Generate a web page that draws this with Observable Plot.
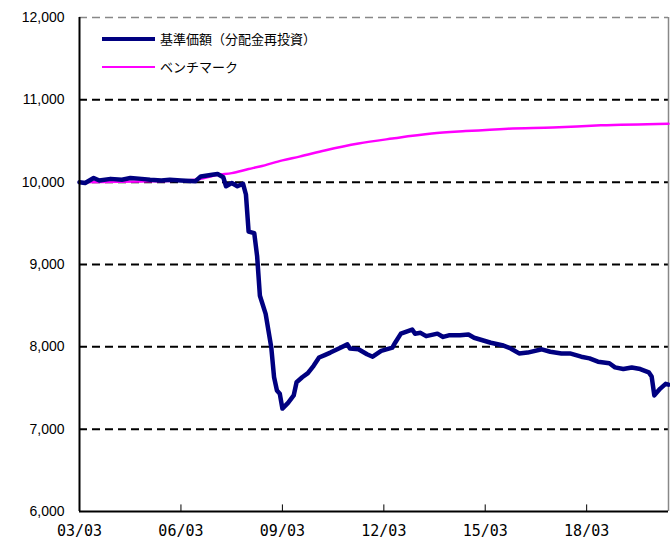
<!DOCTYPE html>
<html><head><meta charset="utf-8">
<script src="https://cdn.jsdelivr.net/npm/d3@7"></script>
<script src="https://cdn.jsdelivr.net/npm/@observablehq/plot@0.6"></script>
<style>
body{margin:0;background:#fff}
#wrap{position:relative;width:670px;height:539px}
.leg{position:absolute;left:102px;display:flex;align-items:center;font:13px "Noto Sans CJK JP",sans-serif;color:#000;white-space:nowrap}
.leg span.sw{display:inline-block;width:53px;margin-right:5px}
</style></head><body><div id="wrap"></div>
<script>
const fundDates=["2003-03","2003-05","2003-08","2003-10","2004-02","2004-06","2004-09","2005-01","2005-04","2005-08","2005-11","2006-03","2006-08","2006-10","2007-02","2007-04","2007-06","2007-07","2007-09","2007-11","2008-01","2008-02","2008-03","2008-05","2008-06","2008-07","2008-09","2008-11","2008-12","2009-01","2009-02","2009-03","2009-05","2009-07","2009-08","2009-10","2009-12","2010-02","2010-04","2010-06","2010-08","2010-11","2011-02","2011-03","2011-06","2011-09","2011-11","2012-02","2012-06","2012-07","2012-09","2013-01","2013-02","2013-04","2013-06","2013-10","2013-12","2014-02","2014-06","2014-09","2014-11","2015-05","2015-09","2015-12","2016-03","2016-06","2016-11","2017-02","2017-06","2017-09","2018-01","2018-04","2018-07","2018-11","2019-01","2019-04","2019-07","2019-10","2020-01","2020-02","2020-03","2020-05","2020-07","2020-08"];
const fundValues=[10000,9990,10050,10020,10040,10030,10050,10040,10030,10020,10030,10020,10010,10070,10090,10100,10060,9950,9990,9950,9980,9850,9400,9380,9100,8620,8400,7990,7630,7470,7430,7250,7320,7410,7570,7630,7680,7770,7870,7900,7930,7980,8030,7980,7970,7910,7880,7950,7990,8050,8160,8210,8160,8170,8130,8160,8120,8140,8140,8150,8110,8050,8020,7980,7920,7930,7970,7940,7920,7920,7880,7860,7820,7800,7750,7730,7750,7730,7690,7640,7410,7490,7550,7540];
const benchDates=["2003-03","2005-03","2006-08","2006-10","2007-04","2007-09","2008-03","2008-07","2009-03","2009-09","2010-06","2011-06","2012-06","2013-08","2014-08","2015-11","2017-03","2018-08","2020-08"];
const benchValues=[10000,10010,10030,10040,10090,10110,10160,10190,10265,10310,10385,10470,10530,10590,10620,10650,10665,10690,10710];
const yTicks=[6000,7000,8000,9000,10000,11000,12000];
const gridValues=[7000,8000,9000,10000,11000];
const xTickDates=["2003-03","2006-03","2009-03","2012-03","2015-03","2018-03"];
const xTickLabels=["03/03","06/03","09/03","12/03","15/03","18/03"];
const xDomain=["2003-03","2020-08"];
const seriesNames=["基準価額（分配金再投資）","ベンチマーク"];

const parse=d3.utcParse("%Y-%m");
const fund=fundDates.map((d,i)=>({date:parse(d),value:fundValues[i]}));
const bench=benchDates.map((d,i)=>({date:parse(d),value:benchValues[i]}));
const xt=xTickDates.map(parse);
const xd=xDomain.map(parse);

const chart=Plot.plot({
  width:670,height:539,
  marginLeft:79,marginRight:2,marginTop:17,marginBottom:28,
  style:{fontFamily:"Arial, 'Liberation Sans', sans-serif",background:"#fff"},
  x:{type:"utc",domain:xd},
  y:{domain:[6000,12000]},
  marks:[
    Plot.ruleY(gridValues,{stroke:"#000",strokeWidth:2,strokeDasharray:"8,5"}),
    Plot.ruleY([12000],{stroke:"#888",strokeWidth:1.5,strokeDasharray:"8,5"}),
    Plot.ruleX([xd[1]],{stroke:"#888",strokeWidth:1.5}),
    Plot.line(bench,{x:"date",y:"value",stroke:"#ff00ff",strokeWidth:2.5,curve:"monotone-x"}),
    Plot.line(fund,{x:"date",y:"value",stroke:"#000080",strokeWidth:4.5,strokeLinejoin:"round"}),
    Plot.ruleY([6000],{stroke:"#000",strokeWidth:2}),
    Plot.ruleX([xd[0]],{stroke:"#000",strokeWidth:2}),
    Plot.ruleX(xt.slice(1),{y1:6000,y2:6080,stroke:"#000",strokeWidth:1}),
    Plot.axisY(yTicks,{tickSize:0,tickPadding:15,tickFormat:d3.format(","),fontSize:14,label:null}),
    Plot.axisX(xt,{tickSize:0,tickPadding:14,tickFormat:(d,i)=>xTickLabels[i],fontSize:15,fontFamily:"'DejaVu Sans Mono', monospace",label:null})
  ]
});
const wrap=document.getElementById("wrap");
wrap.appendChild(chart);
const legItems=[[seriesNames[0],"#000080",4.5,39],[seriesNames[1],"#ff00ff",2.5,67]];
for(const [t,c,w,y] of legItems){
  const d=document.createElement("div");d.className="leg";d.style.top=(y-10)+"px";
  d.innerHTML=`<span class="sw" style="border-top:${w}px solid ${c}"></span><span>${t}</span>`;
  wrap.appendChild(d);
}
</script></body></html>
